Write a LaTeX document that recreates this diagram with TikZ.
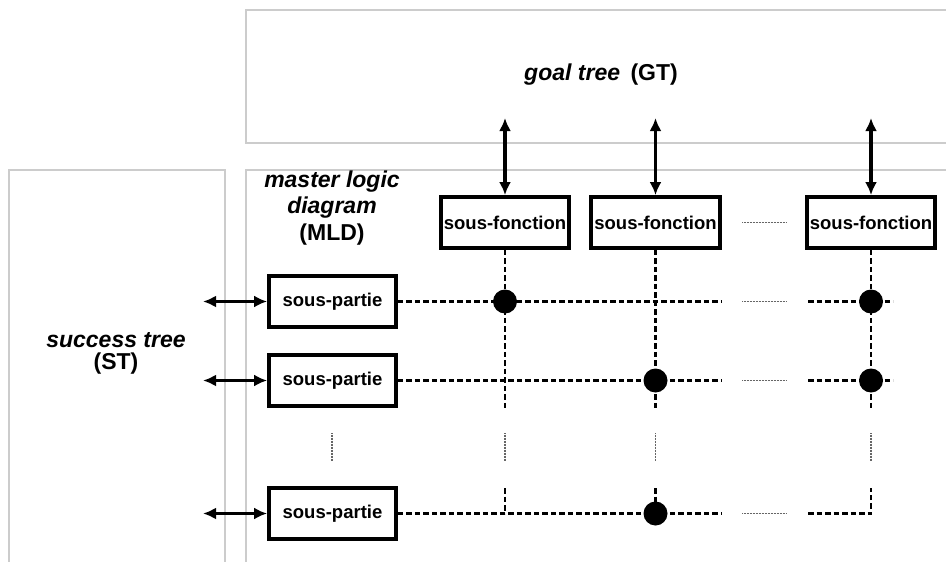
\documentclass[tikz,border=0pt]{standalone}
\usepackage{fontspec}
\setmainfont{Liberation Sans}
\usepackage{tikz}
\usetikzlibrary{positioning,calc,arrows.meta}

\begin{document}
\begin{tikzpicture}[x=1pt,y=-1pt,
    treebox/.style={draw=black!20, line width=1.3pt},
    subbox/.style={draw, line width=3.8pt, minimum height=51pt, inner sep=0pt, font=\fontsize{18.5}{21}\selectfont\bfseries},
    biarrow/.style={line width=3.2pt, {Latex[length=13pt,width=12pt]}-{Latex[length=13pt,width=12pt]}},
    link/.style={line width=2.3pt, dash pattern=on 5.5pt off 3pt},
    etc/.style={draw=black!60, line width=1.8pt, dash pattern=on 0.8pt off 0.7pt},
    hit/.style={circle, fill, inner sep=0pt, minimum size=24pt},
    lbl/.style={align=center, font=\fontsize{23}{26.5}\selectfont\bfseries}
]
    \path[use as bounding box, clip] (0,0) rectangle (946,562);

    % the three trees
    \draw[treebox] (246,10) rectangle (960,143);
    \draw[treebox] (9,170) rectangle (225,580);
    \draw[treebox] (246,170) rectangle (960,580);
    \node[lbl] (gt) at (601,75) {\textit{goal tree}\hspace{4pt} (GT)};
    \node[lbl, font=\fontsize{23}{22}\selectfont\bfseries] (st) at (116,353) {\textit{success tree}\\(ST)};
    \node[lbl] (mld) at (332,208) {\textit{master logic}\\\textit{diagram}\\(MLD)};

    % sub-functions
    \node[subbox, minimum width=128pt] (sf1) at (505,222.5) {sous-fonction};
    \node[subbox, minimum width=129pt] (sf2) at (655.5,222.5) {sous-fonction};
    \node[subbox, minimum width=128pt] (sf3) at (871,222.5) {sous-fonction};
    \coordinate (sfa) at (742,222.5);
    \coordinate (sfb) at (786,222.5);
    \draw[etc] (sfa) -- (sfb);

    % sub-parts
    \node[subbox, minimum width=127pt] (sp1) at (332.5,301.5) {sous-partie};
    \node[subbox, minimum width=127pt] (sp2) at (332.5,380.5) {sous-partie};
    \node[subbox, minimum width=127pt] (sp3) at (332.5,513.5) {sous-partie};
    \coordinate (spa) at (332,433);
    \coordinate (spb) at (332,461);
    \draw[etc] (spa) -- (spb);

    % links to goal tree and success tree
    \foreach \f/\x in {sf1/505, sf2/655.5, sf3/871} {
        \coordinate (\f-gt) at (\x,118);
        \draw[biarrow] (\f-gt) -- (\f.north);
    }
    \foreach \p in {sp1, sp2, sp3} {
        \coordinate (\p-st) at (203,0 |- \p.west);
        \draw[biarrow] (\p-st) -- (\p.west);
    }

    % rows
    \foreach \p in {sp1, sp2, sp3} {
        \coordinate (\p-a) at (722,0 |- \p.east);
        \coordinate (\p-b) at (742,0 |- \p.east);
        \coordinate (\p-c) at (786,0 |- \p.east);
        \coordinate (\p-d) at (808,0 |- \p.east);
        \draw[link] (\p.east) -- (\p-a);
        \draw[etc] (\p-b) -- (\p-c);
    }
    \draw[link] (sp1-d) -- (893,301.5);
    \draw[link] (sp2-d) -- (893,380.5);

    % columns
    \foreach \f in {sf1, sf2, sf3} {
        \coordinate (\f-a) at (\f.south |- 0,408);
        \coordinate (\f-b) at (\f.south |- 0,433);
        \coordinate (\f-c) at (\f.south |- 0,461);
        \coordinate (\f-d) at (\f.south |- 0,488);
        \coordinate (\f-e) at (\f.south |- sp3.east);
        \draw[link] (\f.south) -- (\f-a);
        \draw[etc] (\f-b) -- (\f-c);
    }
    \draw[link] (sf1-d) -- (sf1-e);
    \draw[link] (sf2-d) -- (sf2-e);
    \draw[link] (sp3-d) -- (sf3-e) -- (sf3-d);

    % crossings
    \node[hit] (h11) at (sf1.south |- sp1.east) {};
    \node[hit] (h13) at (sf3.south |- sp1.east) {};
    \node[hit] (h22) at (sf2.south |- sp2.east) {};
    \node[hit] (h23) at (sf3.south |- sp2.east) {};
    \node[hit] (h32) at (sf2.south |- sp3.east) {};
\end{tikzpicture}
\end{document}
